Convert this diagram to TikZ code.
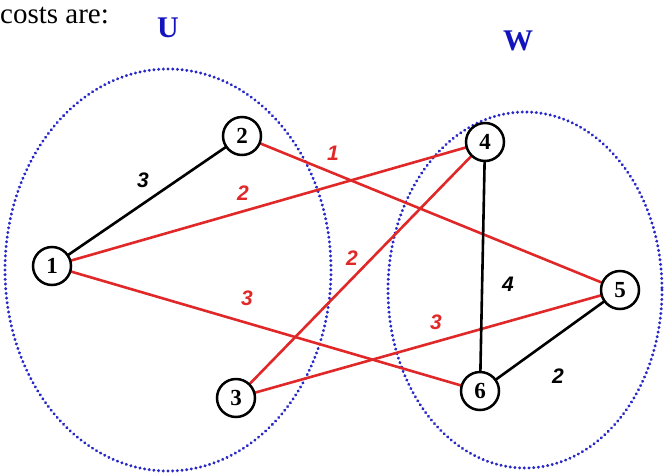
\documentclass[tikz,border=0pt]{standalone}
\usepackage{fontspec}
\setmainfont{Liberation Serif}
\newfontfamily\lsans{Liberation Sans}
\begin{document}
\begin{tikzpicture}[x=1pt,y=-1pt,
  vtx/.style={circle,draw=black,line width=2.5pt,fill=white,minimum size=38pt,inner sep=0pt,font=\fontsize{23}{23}\selectfont\bfseries},
  redge/.style={draw={rgb,255:red,225;green,40;blue,40},line width=2.6pt},
  bedge/.style={draw=black,line width=2.6pt},
  rlab/.style={font=\lsans\fontsize{21}{21}\selectfont\bfseries\itshape,text={rgb,255:red,225;green,40;blue,40}},
  blab/.style={font=\lsans\fontsize{21}{21}\selectfont\bfseries\itshape,text=black},
  grp/.style={draw={rgb,255:red,40;green,40;blue,200},line width=3.2pt,dash pattern=on 0.1pt off 4.6pt,line cap=round},
  glab/.style={font=\fontsize{30}{30}\selectfont\bfseries,text={rgb,255:red,20;green,20;blue,190}}]
\useasboundingbox (0,0) rectangle (664,472);
\draw[grp] (168,270) ellipse [x radius=163, y radius=201];
\draw[grp] (525,290) ellipse [x radius=137, y radius=178];
\node[anchor=base west,font=\fontsize{29}{29}\selectfont,inner sep=0pt] (cap) at (0,23) {costs are:};
\node[glab] (U) at (168,28) {U};
\node[glab] (W) at (518,41) {W};
\coordinate (p1) at (52,266);
\coordinate (p2) at (242,136);
\coordinate (p3) at (236,398);
\coordinate (p4) at (485,142);
\coordinate (p5) at (620,290);
\coordinate (p6) at (480,391);
\draw[bedge] (p1) -- (p2);
\draw[redge] (p1) -- (p4);
\draw[redge] (p1) -- (p6);
\draw[redge] (p2) -- (p5);
\draw[redge] (p3) -- (p4);
\draw[redge] (p3) -- (p5);
\draw[bedge] (p4) -- (p6);
\draw[bedge] (p5) -- (p6);
\node[vtx] (n1) at (p1) {1};
\node[vtx] (n2) at (p2) {2};
\node[vtx] (n3) at (p3) {3};
\node[vtx] (n4) at (p4) {4};
\node[vtx] (n5) at (p5) {5};
\node[vtx] (n6) at (p6) {6};
\node[blab] (l12) at (143,180) {3};
\node[rlab] (l14) at (243,193) {2};
\node[rlab] (l25) at (333,153) {1};
\node[rlab] (l34) at (352,258) {2};
\node[rlab] (l16) at (247,298) {3};
\node[rlab] (l35) at (436,322) {3};
\node[blab] (l46) at (508,284) {4};
\node[blab] (l56) at (558,376) {2};
\end{tikzpicture}
\end{document}
